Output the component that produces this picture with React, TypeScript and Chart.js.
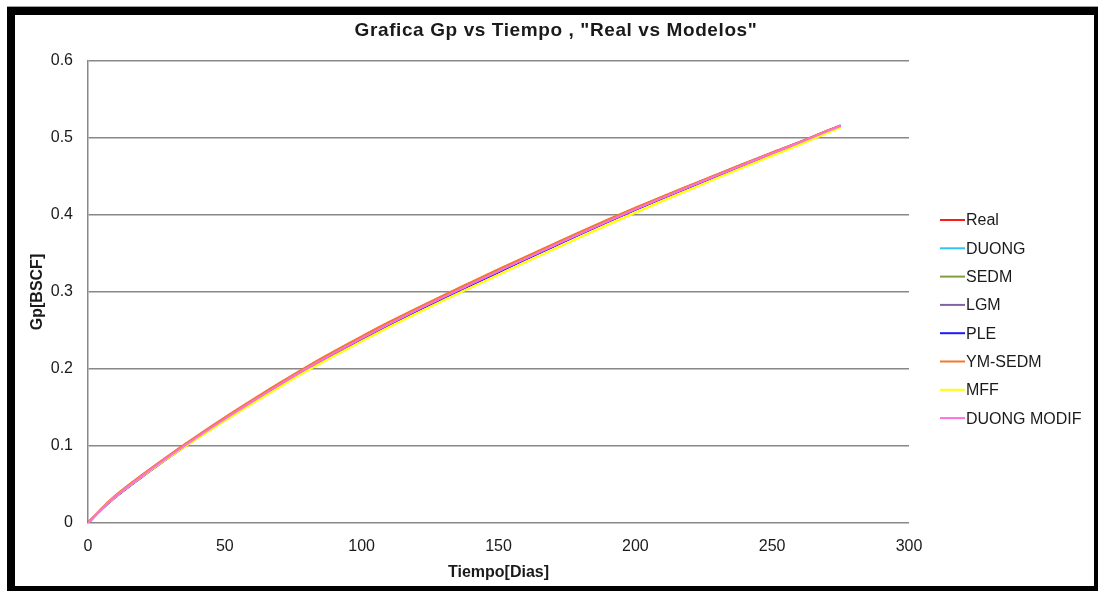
import { useEffect, useRef } from "react";
import { Chart, registerables } from "chart.js";

Chart.register(...registerables);

const chartTitle = 'Grafica Gp vs Tiempo , "Real vs Modelos"';
const xTitle = "Tiempo[Dias]";
const yTitle = "Gp[BSCF]";

const tiempo = [0, 5, 10, 20, 30, 40, 50, 60, 70, 80, 90, 100, 110, 120, 130, 140, 150, 160, 170, 180, 190, 200, 210, 220, 230, 240, 250, 260, 270, 275];

const real = [0, 0.0185, 0.0345, 0.062, 0.0877, 0.1121, 0.1356, 0.1583, 0.1803, 0.2016, 0.2216, 0.2408, 0.2594, 0.2772, 0.2944, 0.3112, 0.3279, 0.3445, 0.3608, 0.377, 0.3929, 0.4083, 0.4232, 0.4378, 0.4523, 0.4665, 0.4806, 0.4944, 0.509, 0.516];
const duong = [0, 0.0182, 0.0341, 0.0616, 0.0873, 0.1117, 0.1351, 0.1578, 0.1798, 0.201, 0.221, 0.2402, 0.2588, 0.2766, 0.2938, 0.3106, 0.3273, 0.3439, 0.3602, 0.3764, 0.3923, 0.4078, 0.4227, 0.4374, 0.4519, 0.4662, 0.4804, 0.4943, 0.5088, 0.5158];
const sedm = [0, 0.0188, 0.035, 0.0625, 0.0882, 0.1126, 0.1361, 0.1588, 0.1808, 0.2021, 0.2221, 0.2413, 0.2599, 0.2777, 0.2949, 0.3117, 0.3284, 0.345, 0.3612, 0.3774, 0.3932, 0.4086, 0.4235, 0.438, 0.4525, 0.4667, 0.4807, 0.4945, 0.509, 0.5161];
const lgm = [0, 0.018, 0.0338, 0.061, 0.0866, 0.1109, 0.1343, 0.1569, 0.1789, 0.2001, 0.2201, 0.2393, 0.2579, 0.2757, 0.2929, 0.3097, 0.3264, 0.3431, 0.3594, 0.3757, 0.3916, 0.4071, 0.4221, 0.4368, 0.4514, 0.4657, 0.4799, 0.4939, 0.5085, 0.5156];
const ple = [0, 0.0179, 0.0336, 0.0607, 0.0862, 0.1105, 0.1338, 0.1564, 0.1783, 0.1995, 0.2195, 0.2387, 0.2573, 0.2751, 0.2923, 0.3091, 0.3258, 0.3425, 0.3589, 0.3752, 0.3912, 0.4067, 0.4217, 0.4365, 0.4511, 0.4655, 0.4797, 0.4938, 0.5084, 0.5155];
const ymSedm = [0, 0.0191, 0.0355, 0.0631, 0.0889, 0.1134, 0.137, 0.1597, 0.1818, 0.2031, 0.2231, 0.2423, 0.2609, 0.2787, 0.2959, 0.3127, 0.3294, 0.3459, 0.3621, 0.3782, 0.394, 0.4093, 0.4241, 0.4386, 0.453, 0.4671, 0.4811, 0.4948, 0.5093, 0.5163];
const mff = [0, 0.0183, 0.034, 0.061, 0.0862, 0.11, 0.133, 0.1552, 0.1767, 0.1976, 0.2172, 0.2361, 0.2544, 0.2721, 0.2892, 0.3059, 0.3225, 0.339, 0.3553, 0.3715, 0.3875, 0.4031, 0.4183, 0.4332, 0.448, 0.4626, 0.4771, 0.4914, 0.5064, 0.514];
const duongModif = [0, 0.0183, 0.0343, 0.0617, 0.0874, 0.1118, 0.1352, 0.1578, 0.1797, 0.2009, 0.2208, 0.24, 0.2585, 0.2763, 0.2935, 0.3103, 0.327, 0.3436, 0.3599, 0.3761, 0.392, 0.4075, 0.4225, 0.4372, 0.4517, 0.466, 0.4802, 0.4941, 0.5087, 0.5158];

const seriesNames = ["Real", "DUONG", "SEDM", "LGM", "PLE", "YM-SEDM", "MFF", "DUONG MODIF"];
const seriesValues = [real, duong, sedm, lgm, ple, ymSedm, mff, duongModif];
const seriesColors = ["#ff1a1a", "#33c3f0", "#7f9f3f", "#8064a2", "#1a1aff", "#f07a24", "#ffff00", "#ff6fd8"];

const xTicks = [0, 50, 100, 150, 200, 250, 300];
const yTicks = [0, 0.1, 0.2, 0.3, 0.4, 0.5, 0.6];
const yTickLabels = ["0", "0.1", "0.2", "0.3", "0.4", "0.5", "0.6"];

const FONT = "'Liberation Sans', Arial, sans-serif";

const decorPlugin = {
  id: "decor",
  beforeDraw(chart: any) {
    const ctx = chart.ctx;
    ctx.save();
    ctx.fillStyle = "#ffffff";
    ctx.fillRect(0, 0, chart.width, chart.height);
    ctx.fillStyle = "#a0a0a0";
    ctx.fillRect(7, 6, 1091, 1);
    ctx.fillStyle = "#000000";
    ctx.fillRect(7, 7, 8, 584);
    ctx.fillRect(7, 7, 1091, 8);
    ctx.fillRect(1094, 7, 4, 584);
    ctx.fillRect(7, 586, 1091, 5);
    ctx.restore();
  },
  afterDraw(chart: any) {
    const ctx = chart.ctx;
    const area = chart.chartArea;
    ctx.save();
    ctx.fillStyle = "#1a1a1a";
    ctx.textBaseline = "middle";
    ctx.textAlign = "center";
    ctx.font = `bold 19px ${FONT}`;
    try { (ctx as any).letterSpacing = "0.6px"; } catch (e) {}
    ctx.fillText(chartTitle, 556, 31);
    try { (ctx as any).letterSpacing = "0px"; } catch (e) {}
    ctx.font = `bold 16px ${FONT}`;
    ctx.fillText(xTitle, (area.left + area.right) / 2, 573);
    ctx.save();
    ctx.translate(38, (area.top + area.bottom) / 2);
    ctx.rotate(-Math.PI / 2);
    ctx.fillText(yTitle, 0, 0);
    ctx.restore();

    // legend
    ctx.textAlign = "left";
    ctx.font = `16px ${FONT}`;
    chart.data.datasets.forEach((ds: any, i: number) => {
      const y = 220 + i * 28.3;
      ctx.strokeStyle = ds.borderColor;
      ctx.lineWidth = 2;
      ctx.beginPath();
      ctx.moveTo(940, y);
      ctx.lineTo(965, y);
      ctx.stroke();
      ctx.fillStyle = "#1a1a1a";
      ctx.fillText(ds.label, 966, y + 1);
    });
    ctx.restore();
  },
};

export default function App() {
  const ref = useRef<HTMLCanvasElement | null>(null);

  useEffect(() => {
    document.body.style.margin = "0";
    const canvas = ref.current;
    if (!canvas) return;
    const datasets = seriesNames.map((name, i) => ({
      label: name,
      data: tiempo.map((t, j) => ({ x: t, y: seriesValues[i][j] })),
      borderColor: seriesColors[i],
      backgroundColor: seriesColors[i],
      borderWidth: 2.25,
      pointRadius: 0,
      cubicInterpolationMode: "monotone" as const,
      fill: false,
      order: seriesNames.length - 1 - i,
    }));
    const chart = new Chart(canvas, {
      type: "line",
      data: { datasets },
      options: {
        responsive: false,
        animation: false,
        devicePixelRatio: 1,
        layout: { padding: { left: 15, right: 189, top: 61, bottom: 0 } },
        plugins: {
          legend: { display: false },
          title: { display: false },
          tooltip: { enabled: false },
        },
        scales: {
          x: {
            type: "linear",
            min: 0,
            max: 300,
            afterBuildTicks: (s: any) => {
              s.ticks = xTicks.map((v) => ({ value: v }));
            },
            afterFit: (s: any) => {
              s.height = 68;
            },
            grid: { display: false, drawTicks: false },
            border: { display: false },
            ticks: {
              padding: 14,
              maxRotation: 0,
              autoSkip: false,
              color: "#1a1a1a",
              font: { family: FONT, size: 16 },
              callback: (v: any) => String(v),
            },
          },
          y: {
            type: "linear",
            min: 0,
            max: 0.6,
            afterBuildTicks: (s: any) => {
              s.ticks = yTicks.map((v) => ({ value: v }));
            },
            afterFit: (s: any) => {
              s.width = 73;
            },
            grid: { color: "#888888", lineWidth: 1.5, drawTicks: false },
            border: { display: true, color: "#888888", width: 1.5 },
            ticks: {
              padding: 15,
              autoSkip: false,
              color: "#1a1a1a",
              font: { family: FONT, size: 16 },
              callback: (v: any) => {
                const idx = yTicks.findIndex((t) => Math.abs(t - v) < 1e-9);
                return idx >= 0 ? yTickLabels[idx] : "";
              },
            },
          },
        },
      },
      plugins: [decorPlugin],
    });
    return () => chart.destroy();
  }, []);

  return (
    <div style={{ position: "fixed", left: 0, top: 0, width: 1098, height: 591 }}>
      <canvas ref={ref} width={1098} height={591} style={{ width: 1098, height: 591, display: "block" }} />
    </div>
  );
}
